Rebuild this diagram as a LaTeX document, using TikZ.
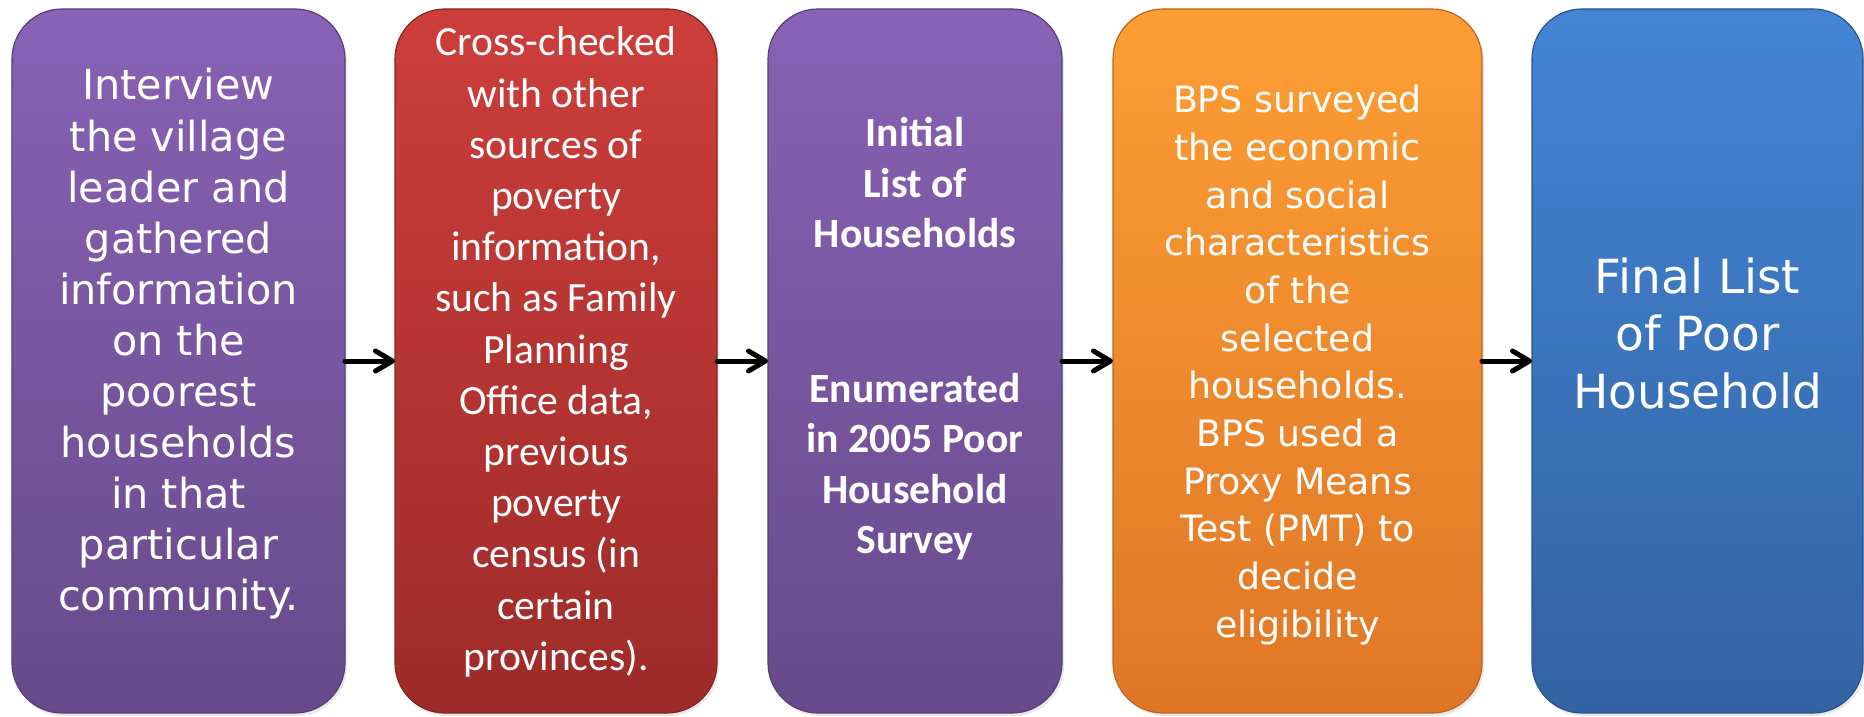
\documentclass[tikz,border=0pt]{standalone}
\usepackage{fontspec}
\setmainfont{DejaVu Sans}
\newfontfamily\calfont{Carlito}
\usetikzlibrary{arrows.meta,shadows}

\definecolor{purpT}{RGB}{136,98,181}
\definecolor{purpB}{RGB}{104,74,139}
\definecolor{redT}{RGB}{205,62,59}
\definecolor{redB}{RGB}{157,43,41}
\definecolor{orT}{RGB}{253,158,52}
\definecolor{orB}{RGB}{223,118,38}
\definecolor{blT}{RGB}{67,133,212}
\definecolor{blB}{RGB}{51,99,163}

\begin{document}
\begin{tikzpicture}[x=1bp,y=-1bp,
  stepbox/.style={rectangle, rounded corners=50bp, minimum height=704bp,
    inner sep=0pt, outer sep=0pt, line width=1.2bp,
    drop shadow={opacity=0.18, shadow xshift=2bp, shadow yshift=-3bp}},
  purplebox/.style={stepbox, top color=purpT, bottom color=purpB, draw=purpB!85!black},
  redbox/.style={stepbox, top color=redT, bottom color=redB, draw=redB!85!black},
  orangebox/.style={stepbox, top color=orT, bottom color=orB, draw=orB!85!black},
  bluebox/.style={stepbox, top color=blT, bottom color=blB, draw=blB!85!black},
  txt/.style={text=white, align=center, inner sep=0pt},
  flow/.style={line width=5bp, line cap=round,
    -{Straight Barb[length=17bp, width=20bp, round]}}
]
\useasboundingbox (0,0) rectangle (1864,717);

% boxes
\node[purplebox, minimum width=333bp] (b1) at (178.5,361) {};
\node[redbox,    minimum width=322bp] (b2) at (556,361) {};
\node[purplebox, minimum width=294bp] (b3) at (915,361) {};
\node[orangebox, minimum width=369bp] (b4) at (1297.5,361) {};
\node[bluebox,   minimum width=331bp] (b5) at (1697.5,361) {};

% texts
\node[txt, font=\fontsize{41.4bp}{51.1bp}\selectfont] (t1) at (178.5,344)
  {Interview\\the village\\leader and\\gathered\\information\\on the\\poorest\\households\\in that\\particular\\community.};
\node[txt, font=\calfont\fontsize{41.6bp}{51.2bp}\selectfont] (t2) at (556,352)
  {Cross-checked\\with other\\sources of\\poverty\\information,\\such as Family\\Planning\\Office data,\\previous\\poverty\\census (in\\certain\\provinces).};
\node[txt, font=\calfont\bfseries\fontsize{41.6bp}{50.5bp}\selectfont] (t3) at (915,339)
  {Initial\\List of\\Households\\[104bp]Enumerated\\in 2005 Poor\\Household\\Survey};
\node[txt, font=\fontsize{36.3bp}{47.7bp}\selectfont] (t4) at (1297.5,365)
  {BPS surveyed\\the economic\\and social\\characteristics\\of the\\selected\\households.\\BPS used a\\Proxy Means\\Test (PMT) to\\decide\\eligibility};
\node[txt, font=\fontsize{47bp}{57.5bp}\selectfont] (t5) at (1697.5,333)
  {Final List\\of Poor\\Household};

% connectors
\draw[flow] (b1.east) -- (b2.west);
\draw[flow] (b2.east) -- (b3.west);
\draw[flow] (b3.east) -- (b4.west);
\draw[flow] (b4.east) -- (b5.west);
\end{tikzpicture}
\end{document}
